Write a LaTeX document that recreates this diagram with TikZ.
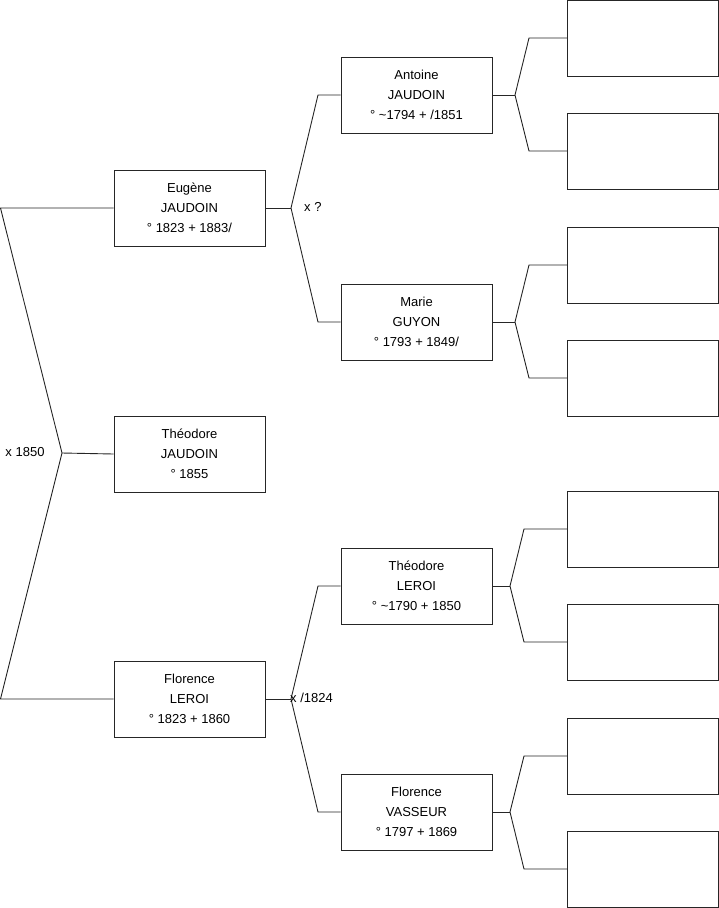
\documentclass[tikz,border=0pt]{standalone}
\usepackage{fontspec}
\setmainfont{Liberation Sans}
\begin{document}
\begin{tikzpicture}[x=1pt,y=-1pt,
  person/.style={draw=black!85,line width=0.9pt,rectangle,minimum width=151pt,minimum height=76pt,inner sep=0pt,align=center,font=\fontsize{13}{20}\selectfont},
  link/.style={draw=black!85,line width=0.9pt},
  lbl/.style={font=\fontsize{13}{15}\selectfont,inner sep=0pt}]
\useasboundingbox (0,0) rectangle (719,908);
% generation 1
\node[person] (eug) at (189.5,208) {Eugène\\JAUDOIN\\° 1823 + 1883/};
\node[person] (theo) at (189.5,454) {Théodore\\JAUDOIN\\° 1855};
\node[person] (flo) at (189.5,699) {Florence\\LEROI\\° 1823 + 1860};
% generation 2
\node[person] (ant) at (416.5,95) {Antoine\\JAUDOIN\\° \textasciitilde1794 + /1851};
\node[person] (mar) at (416.5,322) {Marie\\GUYON\\° 1793 + 1849/};
\node[person] (theoL) at (416.5,586) {Théodore\\LEROI\\° \textasciitilde1790 + 1850};
\node[person] (floV) at (416.5,812) {Florence\\VASSEUR\\° 1797 + 1869};
% generation 3 (empty)
\node[person] (e1) at (643,38) {};
\node[person] (e2) at (643,151) {};
\node[person] (e3) at (643,265) {};
\node[person] (e4) at (643,378) {};
\node[person] (e5) at (643,529) {};
\node[person] (e6) at (643,642) {};
\node[person] (e7) at (643,756) {};
\node[person] (e8) at (643,869) {};
% root bracket
\coordinate (rt) at (0.5,208);
\coordinate (rj) at (62,453);
\coordinate (rb) at (0.5,699);
\draw[link] (eug.west) -- (rt) -- (rj) -- (rb) -- (flo.west);
\draw[link] (rj) -- (theo.west);
\node[lbl] (m0) at (25,452) {x 1850};
% Eugene bracket
\coordinate (jE) at (291,208);
\coordinate (kA) at (318,95);
\coordinate (kM) at (318,322);
\draw[link] (eug.east) -- (jE);
\draw[link] (ant.west) -- (kA) -- (jE) -- (kM) -- (mar.west);
\node[lbl,anchor=west] (m1) at (304,207) {x ?};
% Florence bracket
\coordinate (jF) at (291,699);
\coordinate (kT) at (318,586);
\coordinate (kV) at (318,812);
\draw[link] (flo.east) -- (jF);
\draw[link] (theoL.west) -- (kT) -- (jF) -- (kV) -- (floV.west);
\node[lbl,anchor=west] (m2) at (290,698) {x /1824};
% gen 2 -> gen 3 brackets
\coordinate (jA) at (515,95);
\coordinate (a1) at (529,38);
\coordinate (a2) at (529,151);
\draw[link] (ant.east) -- (jA);
\draw[link] (e1.west) -- (a1) -- (jA) -- (a2) -- (e2.west);
\coordinate (jM) at (515,322);
\coordinate (b1) at (529,265);
\coordinate (b2) at (529,378);
\draw[link] (mar.east) -- (jM);
\draw[link] (e3.west) -- (b1) -- (jM) -- (b2) -- (e4.west);
\coordinate (jT) at (510,586);
\coordinate (c1) at (524,529);
\coordinate (c2) at (524,642);
\draw[link] (theoL.east) -- (jT);
\draw[link] (e5.west) -- (c1) -- (jT) -- (c2) -- (e6.west);
\coordinate (jV) at (510,812);
\coordinate (d1) at (524,756);
\coordinate (d2) at (524,869);
\draw[link] (floV.east) -- (jV);
\draw[link] (e7.west) -- (d1) -- (jV) -- (d2) -- (e8.west);
\end{tikzpicture}
\end{document}
